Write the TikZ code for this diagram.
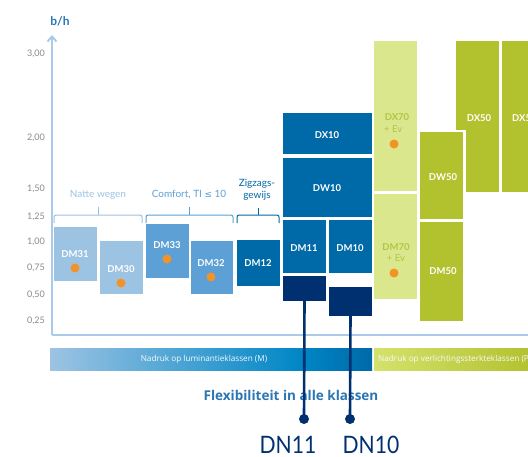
\documentclass[tikz,border=0pt]{standalone}
\usepackage{fontspec}
\setmainfont{Lato}
\newfontfamily\dvfont{DejaVu Sans}
\newfontfamily\osfont{Open Sans}
\newfontfamily\dnfont[FakeStretch=0.88]{Lato}
\usetikzlibrary{arrows.meta,fit}
\definecolor{lightblue}{HTML}{9DC3E3}
\definecolor{midblue}{HTML}{5CA0D6}
\definecolor{darkblue}{HTML}{0069A7}
\definecolor{brightblue}{HTML}{0087C6}
\definecolor{navy}{HTML}{00306F}
\definecolor{lightgreen}{HTML}{DBE78C}
\definecolor{barlightgreen}{HTML}{D4E26C}
\definecolor{olive}{HTML}{B2C22F}
\definecolor{olivetext}{HTML}{B3C545}
\definecolor{dotorange}{HTML}{F39325}
\definecolor{axisblue}{HTML}{A9CBE9}
\definecolor{tickgray}{HTML}{8A8A8A}
\definecolor{titleblue}{HTML}{2C76B2}
\tikzset{
  blk/.style={inner sep=0pt, outer sep=0pt, draw=none},
  lbl/.style={font=\bfseries\fontsize{9.5}{10}\selectfont, text=white, inner sep=0pt},
  evlbl/.style={font=\fontsize{9.5}{10}\selectfont, text=olivetext, inner sep=0pt},
  odot/.style={circle, fill=dotorange, minimum size=9pt, inner sep=0pt},
  ndot/.style={circle, fill=navy, minimum size=10pt, inner sep=0pt},
  ticklbl/.style={font=\fontsize{9}{10}\selectfont, text=tickgray, anchor=east, inner sep=0pt},
  grp/.style={font=\fontsize{10}{11}\selectfont, inner sep=0pt},
  brace/.style={line width=1pt, rounded corners=2pt},
  axisline/.style={draw=axisblue, line width=2pt},
  conn/.style={draw=navy, line width=2.6pt},
  barlbl/.style={font=\osfont\fontsize{8.2}{9}\selectfont, text=white!92!lightblue, inner sep=0pt},
  dnlbl/.style={font=\dnfont\fontsize{24}{26}\selectfont, text=navy, inner sep=0pt},
}
\begin{document}
\begin{tikzpicture}[x=1pt,y=-1pt]
\clip (0,0) rectangle (528,456);
\fill[white] (0,0) rectangle (528,456);

% axes
\coordinate (origin) at (52,335);
\coordinate (ytop) at (52,35);
\coordinate (xend) at (530,335);
\draw[axisline] (origin) -- (xend);
\draw[axisline, -{Straight Barb[length=5pt,width=9pt,line width=2pt]}] (origin) -- (ytop);
\node[font=\bfseries\fontsize{12}{13}\selectfont, text=titleblue, inner sep=0pt] (bh) at (60,21) {b/h};

% tick labels
\node[ticklbl] (t300) at (45,54) {3,00};
\node[ticklbl] (t200) at (45,138) {2,00};
\node[ticklbl] (t150) at (45,189) {1,50};
\node[ticklbl] (t125) at (45,217) {1,25};
\node[ticklbl] (t100) at (45,242) {1,00};
\node[ticklbl] (t075) at (45,268) {0,75};
\node[ticklbl] (t050) at (45,295) {0,50};
\node[ticklbl] (t025) at (45,321) {0,25};

% group labels and braces
\node[grp, text=lightblue] (gnat) at (98,195) {Natte wegen};
\node[grp, text=midblue] (gcom) at (189,195) {Comfort, TI {\dvfont\fontsize{9}{10}\selectfont ≤} 10};
\node[grp, text=darkblue, align=center, font=\fontsize{10}{12}\selectfont] (gzig) at (257,190) {Zigzags-\\gewijs};
\draw[brace, lightblue] (54,223) -- (54,215) -- (142,215) -- (142,223);
\draw[lightblue, line width=1pt] (98,215) -- (98,207);
\draw[brace, midblue] (146,223) -- (146,215) -- (233,215) -- (233,223);
\draw[midblue, line width=1pt] (189,215) -- (189,207);
\draw[brace, darkblue] (237,223) -- (237,215) -- (279,215) -- (279,223);
\draw[darkblue, line width=1pt] (258,215) -- (258,208);

% M boxes
\node[blk, fill=lightblue, fit={(54,227) (97,281)}] (dm31) {};
\node[blk, fill=lightblue, fit={(100,241) (143,294)}] (dm30) {};
\node[blk, fill=midblue, fit={(146,224) (189,278)}] (dm33) {};
\node[blk, fill=midblue, fit={(191,241) (233,294)}] (dm32) {};
\node[blk, fill=darkblue, fit={(237,240) (280,286)}] (dm12) {};

% dark blue stack
\node[blk, fill=darkblue, fit={(283,113) (372,154)}] (dx10) {};
\node[blk, fill=darkblue, fit={(283,158) (372,217)}] (dw10) {};
\node[blk, fill=darkblue, fit={(283,220) (326,273)}] (dm11) {};
\node[blk, fill=darkblue, fit={(329,220) (372,273)}] (dm10) {};
\node[blk, fill=navy, fit={(283,276) (326,301)}] (dn11) {};
\node[blk, fill=navy, fit={(329,287) (372,316)}] (dn10) {};

% green boxes
\node[blk, fill=lightgreen, fit={(374,41) (417,191)}] (dx70) {};
\node[blk, fill=lightgreen, fit={(374,194) (417,299)}] (dm70) {};
\node[blk, fill=olive, fit={(456,41) (499,192)}] (dx50) {};
\node[blk, fill=olive, fit={(502,41) (545,192)}] (dx50b) {};
\fill[white] (418,130) rectangle (466,221);
\node[blk, fill=olive, fit={(420,132) (463,219)}] (dw50) {};
\node[blk, fill=olive, fit={(420,222) (463,321)}] (dm50) {};

% box labels
\node[lbl] (ldm31) at (75,254) {DM31};
\node[lbl] (ldm30) at (121,269) {DM30};
\node[lbl] (ldm33) at (167,245) {DM33};
\node[lbl] (ldm32) at (211,263) {DM32};
\node[lbl] (ldm12) at (258,263) {DM12};
\node[lbl] (ldx10) at (327,135) {DX10};
\node[lbl] (ldw10) at (327,188) {DW10};
\node[lbl] (ldm11) at (304,248) {DM11};
\node[lbl] (ldm10) at (350,248) {DM10};
\node[lbl, text=olivetext] (ldx70) at (397,117) {DX70};
\node[evlbl, anchor=west] (edx70) at (384,129) {+ Ev};
\node[lbl, text=olivetext] (ldm70) at (396,247) {DM70};
\node[evlbl] (edm70) at (396,258) {+ Ev};
\node[lbl] (ldw50) at (443,177) {DW50};
\node[lbl] (ldm50) at (443,271) {DM50};
\node[lbl] (ldx50) at (479,118) {DX50};
\node[lbl, anchor=west] (ldx50b) at (512,118) {DX50};

% orange dots
\node[odot] (o31) at (75,268) {};
\node[odot] (o30) at (121,283) {};
\node[odot] (o33) at (167,259) {};
\node[odot] (o32) at (211,277) {};
\node[odot] (o70x) at (394,144) {};
\node[odot] (o70m) at (394,273) {};

% bottom bar
\shade[left color=lightblue, middle color=midblue, right color=brightblue] (50,348) rectangle (300,370);
\shade[left color=brightblue, right color=darkblue] (299.5,348) rectangle (372,370);
\shade[left color=barlightgreen, right color=olive] (374,348) rectangle (530,370);
\node[barlbl] (barm) at (204,359) {Nadruk op luminantieklassen (M)};
\node[barlbl, anchor=west] (barp) at (378,359) {Nadruk op verlichtingssterkteklassen (P)};

% bottom texts
\node[font=\osfont\bfseries\fontsize{13.5}{14}\selectfont, text=titleblue, inner sep=0pt] (flex) at (291,395) {Flexibiliteit in alle klassen};
\node[ndot] (d11) at (304,419) {};
\node[ndot] (d10) at (350,419) {};
\draw[conn] (dn11.south) -- (d11.center);
\draw[conn] (dn10.south) -- (d10.center);
\node[dnlbl] (tdn11) at (288,445) {DN11};
\node[dnlbl] (tdn10) at (371,445) {DN10};
\end{tikzpicture}
\end{document}
